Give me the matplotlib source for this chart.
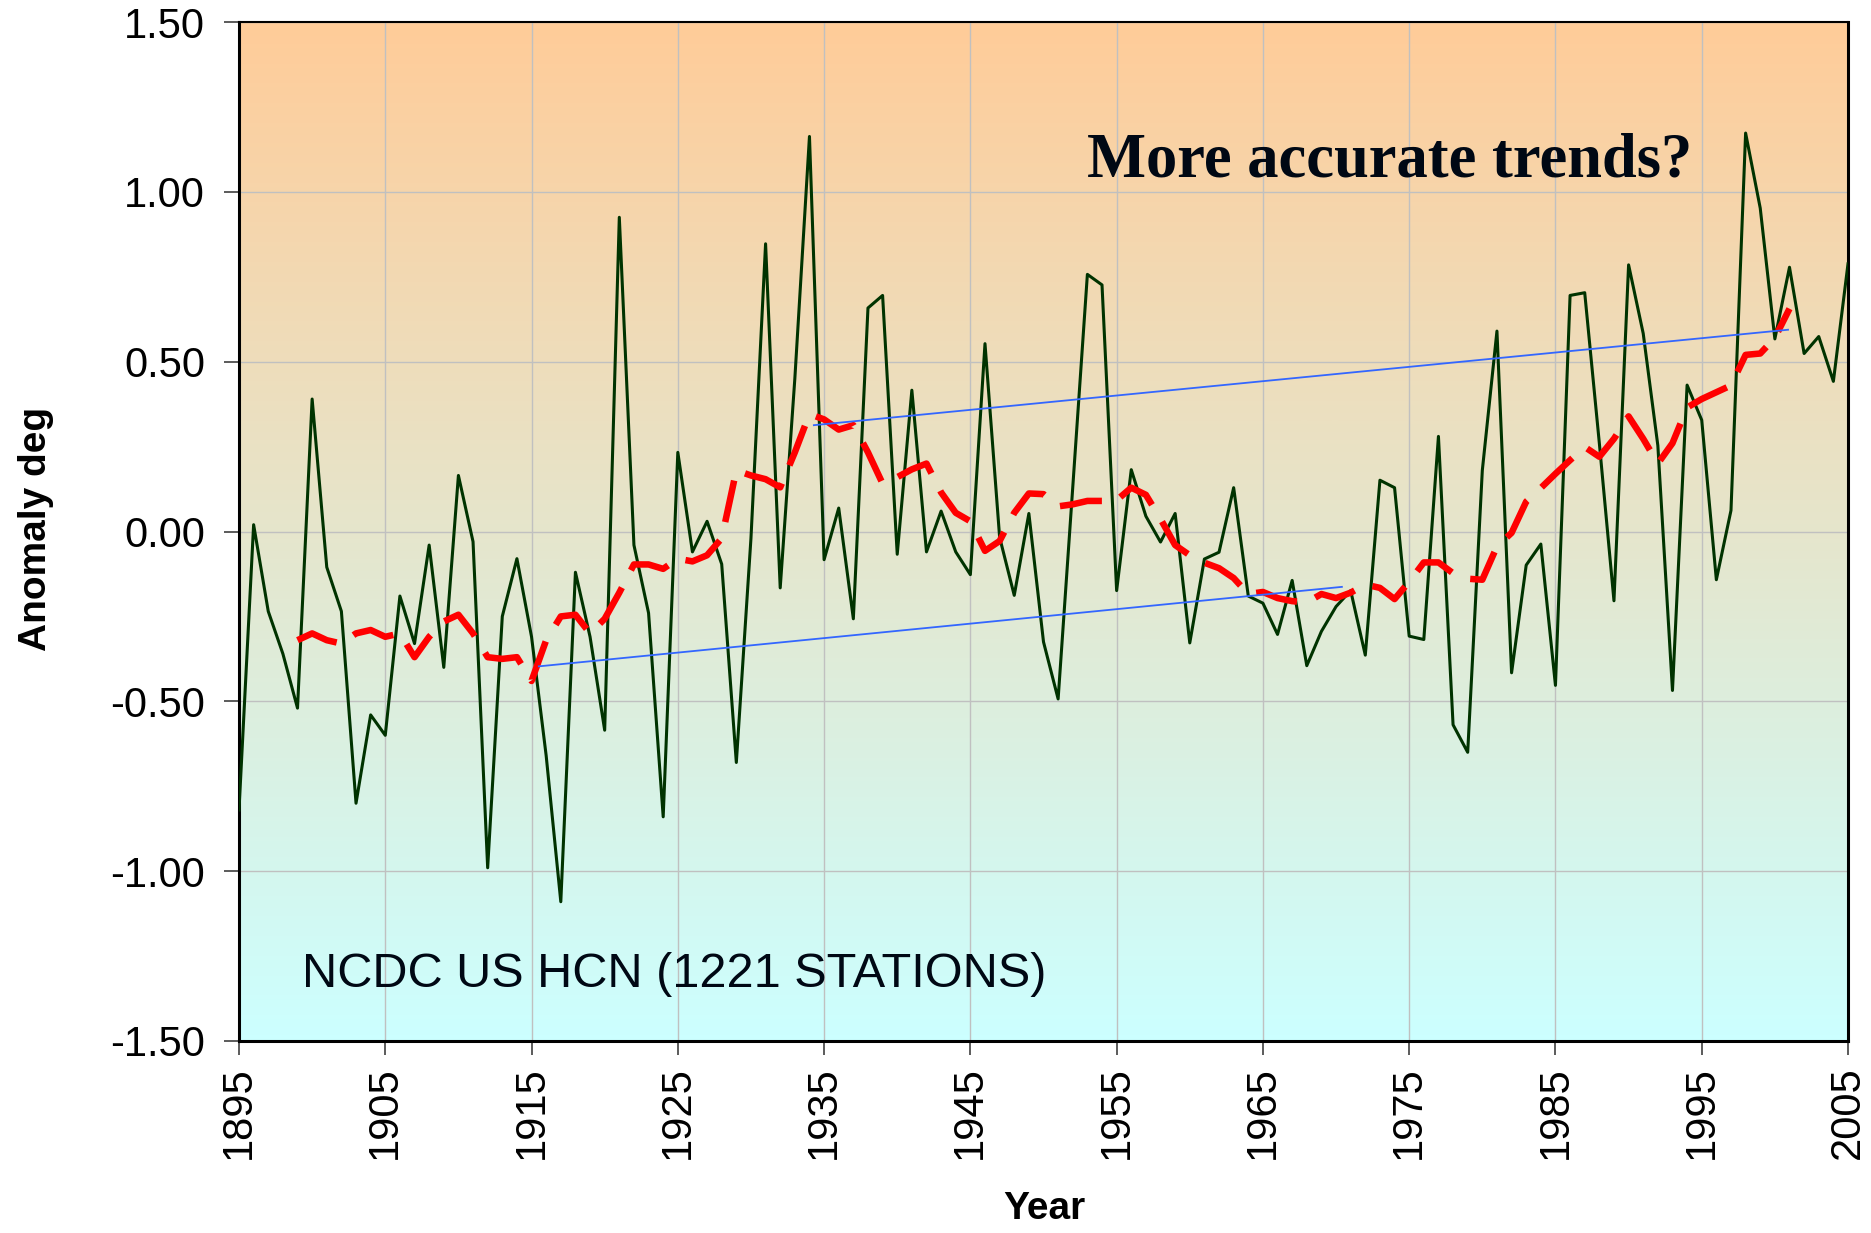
import numpy as np
import matplotlib
matplotlib.use("Agg")
import matplotlib.pyplot as plt
from matplotlib.colors import LinearSegmentedColormap

# annual anomaly, 1895-2005
years = np.arange(1895, 2006)
anomaly = [
    -0.82, 0.02, -0.235, -0.36, -0.52, 0.39, -0.105, -0.235, -0.80, -0.54,   # 1895-1904
    -0.60, -0.19, -0.33, -0.04, -0.40, 0.165, -0.03, -0.99, -0.25, -0.08,     # 1905-1914
    -0.31, -0.66, -1.09, -0.12, -0.31, -0.585, 0.925, -0.04, -0.24, -0.84,    # 1915-1924
    0.233, -0.06, 0.03, -0.096, -0.68, -0.02, 0.847, -0.166, 0.45, 1.163,     # 1925-1934
    -0.083, 0.069, -0.257, 0.658, 0.695, -0.067, 0.416, -0.06, 0.06, -0.06,   # 1935-1944
    -0.127, 0.553, -0.017, -0.188, 0.053, -0.325, -0.493, 0.13, 0.757, 0.726, # 1945-1954
    -0.174, 0.182, 0.045, -0.031, 0.053, -0.328, -0.081, -0.061, 0.129, -0.19, # 1955-1964
    -0.211, -0.303, -0.144, -0.395, -0.294, -0.221, -0.174, -0.364, 0.151, 0.129, # 1965-1974
    -0.308, -0.318, 0.28, -0.569, -0.65, 0.18, 0.59, -0.416, -0.099, -0.037,  # 1975-1984
    -0.453, 0.695, 0.703, 0.26, -0.204, 0.785, 0.583, 0.253, -0.468, 0.431,   # 1985-1994
    0.328, -0.142, 0.062, 1.173, 0.952, 0.567, 0.778, 0.524, 0.574, 0.442,    # 1995-2004
    0.788,                                                                     # 2005
]

# smoothed curve (red dashes), 1899-2001
smooth_years = np.arange(1899, 2002)
smooth = [
    -0.32, -0.30, -0.32, -0.33, -0.30, -0.29, -0.31, -0.30, -0.37, -0.31,     # 1899-1908
    -0.265, -0.245, -0.30, -0.37, -0.375, -0.37, -0.44, -0.32, -0.25, -0.245, # 1909-1918
    -0.30, -0.257, -0.18, -0.097, -0.097, -0.11, -0.08, -0.088, -0.07, -0.02, # 1919-1928
    0.18, 0.165, 0.154, 0.13, 0.233, 0.346, 0.33, 0.30, 0.313, 0.233,         # 1929-1938
    0.141, 0.16, 0.183, 0.20, 0.115, 0.055, 0.03, -0.057, -0.028, 0.055,      # 1939-1948
    0.112, 0.11, 0.074, 0.08, 0.09, 0.09, 0.092, 0.129, 0.108, 0.037,         # 1949-1958
    -0.04, -0.07, -0.092, -0.108, -0.137, -0.184, -0.178, -0.196, -0.205, -0.209, # 1959-1968
    -0.184, -0.196, -0.18, -0.156, -0.166, -0.199, -0.148, -0.091, -0.091, -0.123, # 1969-1978
    -0.139, -0.142, -0.044, -0.004, 0.088, 0.128, 0.17, 0.21, 0.249, 0.22,    # 1979-1988
    0.273, 0.339, 0.273, 0.20, 0.26, 0.365, 0.39, 0.41, 0.43, 0.52,           # 1989-1998
    0.524, 0.57, 0.656,                                                        # 1999-2001
]

# hand drawn trend lines (blue)
upper_x = [1934.3, 2000.9]
upper_y = [0.313, 0.594]
lower_x = [1915.5, 1970.4]
lower_y = [-0.397, -0.163]

year_ticks = np.arange(1895, 2006, 10)
value_ticks = np.arange(-1.5, 1.51, 0.5)

title_text = "More accurate trends?"
source_text = "NCDC US HCN (1221 STATIONS)"

plt.rcParams['font.family'] = ['Liberation Sans', 'DejaVu Sans']

fig = plt.figure(figsize=(18.71, 12.33), dpi=100)
ax = fig.add_axes([239/1871, 192/1233, 1609/1871, 1019/1233])

# orange to turquoise background
cmap = LinearSegmentedColormap.from_list("bg", ["#CCFFFF", "#FFCC99"])
grad = np.linspace(0, 1, 256).reshape(-1, 1)
ax.imshow(grad, extent=[1895, 2005, -1.5, 1.5], aspect='auto', cmap=cmap,
          origin='lower', zorder=0, interpolation='bilinear')

ax.plot(years, anomaly, color='#003300', lw=2.2, zorder=3)
ax.plot(smooth_years, smooth, color='#FF0000', lw=4.7, ls=(0, (6.5, 3)),
        dash_capstyle='butt', zorder=4)
ax.plot(upper_x, upper_y, color='#3366FF', lw=1.3, zorder=5)
ax.plot(lower_x, lower_y, color='#3366FF', lw=1.3, zorder=5)

ax.set_xlim(1895, 2005)
ax.set_ylim(-1.5, 1.5)
ax.set_xticks(year_ticks)
ax.set_xticklabels([str(y) for y in year_ticks], rotation=90, fontsize=30)
ax.set_yticks(value_ticks)
ax.set_yticklabels(["%.2f" % v for v in value_ticks], fontsize=30)
ax.tick_params(axis='x', length=10, width=1.2, color='#404040', pad=8)
ax.tick_params(axis='y', length=10.5, width=1.2, color='#404040', pad=14)
ax.grid(True, color='#C0C0C0', lw=1.0)
ax.set_axisbelow(True)
for s in ax.spines.values():
    s.set_linewidth(2.2)
    s.set_color('black')
ax.spines['top'].set_linewidth(1.5)

ax.text(1953.0, 1.046, title_text, fontsize=45, fontweight='bold',
        family=['Liberation Serif', 'DejaVu Serif'], color='#000814', va='baseline')
ax.text(1899.3, -1.34, source_text, fontsize=35, color='#000814', va='baseline')

fig.text(36/1871, 1 - 529/1233, "Anomaly deg", rotation=90, fontsize=28,
         fontweight='bold', ha='center', va='center')
fig.text(1044/1871, 1 - 1209/1233, "Year", fontsize=28, fontweight='bold',
         ha='center', va='center')

fig.savefig("out.png", dpi=100)
